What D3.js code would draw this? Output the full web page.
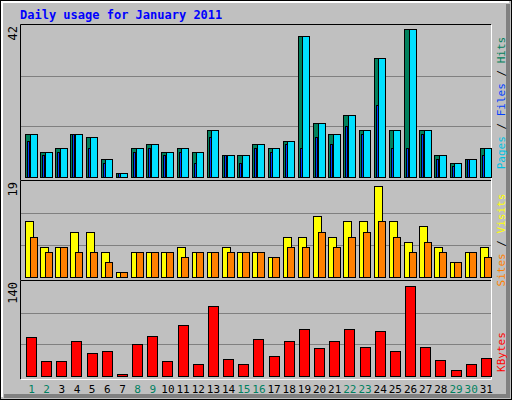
<!DOCTYPE html>
<html><head><meta charset="utf-8">
<script src="https://cdn.jsdelivr.net/npm/d3@7"></script>
<style>body{margin:0;background:#fff}</style>
</head><body>
<svg id="c" width="512" height="400"></svg>
<script>
const days   = d3.range(1, 32);
const weekend = [1, 2, 8, 9, 15, 16, 22, 23, 29, 30];
const hits   = [12,7,8,12,11,5,1,8,9,7,8,7,13,6,6,9,8,10,39,15,12,17,13,33,13,41,13,6,4,5,8];
const files  = hits.slice();
const pages  = [10,6,7,12,8,4,1,7,8,6,7,4,11,6,4,8,7,9,8,11,9,14,12,20,8,8,12,5,3,5,6];
const visits = [11,6,6,9,9,5,1,5,5,5,6,5,5,6,5,5,4,8,8,12,8,11,11,18,11,7,10,6,3,5,6];
const sites  = [8,5,6,5,5,3,1,5,5,5,4,5,5,5,5,5,4,6,6,9,6,8,9,11,8,5,7,5,3,5,4];
const kbytes = [57,22,22,52,34,37,3,47,59,22,75,18,103,25,18,55,30,52,69,41,52,69,43,66,37,133,43,24,9,17,27];
const maxHits = 42, maxVisits = 19, maxKb = 140;

const svg = d3.select('#c');
const mono = 'DejaVu Sans Mono, monospace';

// frame
svg.append('rect').attr('x',0.5).attr('y',0.5).attr('width',511).attr('height',399).attr('fill','#c0c0c0').attr('stroke','#000');
svg.append('path').attr('d','M2,397V2H509').attr('fill','none').attr('stroke','#fff').attr('stroke-width',2);
svg.append('path').attr('d','M508,4V396H4').attr('fill','none').attr('stroke','#808080').attr('stroke-width',4);

svg.append('text').attr('x',20).attr('y',19).attr('fill','#0000ff')
  .style('font', 'bold 12px ' + mono).text('Daily usage for January 2011');

const x = d3.scaleBand().domain(days).range([21, 491]).padding(0);
const L = 21, R = 491;

function panel(top, bottom, max) {
  const y = d3.scaleLinear().domain([0, max]).range([bottom, top]);
  [1/3, 2/3].forEach(f => svg.append('line').attr('x1',L).attr('x2',R)
    .attr('y1',Math.round(y(max*f))+0.5).attr('y2',Math.round(y(max*f))+0.5).attr('stroke','#808080'));
  svg.append('path').attr('d',`M${L-0.5},${bottom+3}V${top-0.5}H${R}`).attr('fill','none').attr('stroke','#000');
  svg.append('path').attr('d',`M${R+0.5},${top}V${bottom+3.5}H${L}`).attr('fill','none').attr('stroke','#fff');
  svg.append('text').attr('transform',`translate(17,${top+1}) rotate(-90)`).attr('text-anchor','end')
    .style('font','12px ' + mono).text(max);
  return y;
}

function bars(data, y, dx, w, fill, bottom) {
  svg.append('g').selectAll('rect').data(data).enter().append('rect')
    .attr('x', (d, i) => Math.round(x(days[i]) + dx) + 0.5)
    .attr('y', d => Math.round(y(d)) + 0.5)
    .attr('width', w)
    .attr('height', d => Math.max(0, bottom - Math.round(y(d))))
    .attr('fill', fill).attr('stroke', '#000');
}

const y1 = panel(25, 177, maxHits);
bars(hits, y1, 4, 8, '#00805c', 177);
bars(files, y1, 8.5, 7, '#00e0ff', 177);
bars(pages, y1, 6, 2, '#0040ff', 177);

const y2 = panel(181, 277, maxVisits);
bars(visits, y2, 4, 8, '#ffff00', 277);
bars(sites, y2, 8.5, 7, '#ff8000', 277);

const y3 = panel(281, 376, maxKb);
bars(kbytes, y3, 5, 10, '#ff0000', 376);

// day labels
svg.append('g').selectAll('text').data(days).enter().append('text')
  .attr('x', d => x(d) + 10.5).attr('y', 393).attr('text-anchor','middle')
  .attr('fill', d => weekend.includes(d) ? '#008060' : '#000')
  .style('font','11px ' + mono).text(d => d);

// right legends
function legend(cy, parts) {
  const t = svg.append('text').attr('transform',`translate(505,${cy}) rotate(-90)`)
    .attr('text-anchor','middle').style('font','11px ' + mono);
  parts.forEach(p => t.append('tspan').attr('fill', p[1]).text(p[0]));
}
legend(103, [['Pages','#00c0e0'],[' / ','#000'],['Files','#0040ff'],[' / ','#000'],['Hits','#00805c']]);
legend(240, [['Sites','#ff8000'],[' / ','#000'],['Visits','#ffff00']]);
legend(352, [['KBytes','#ff0000']]);
</script>
</body></html>
